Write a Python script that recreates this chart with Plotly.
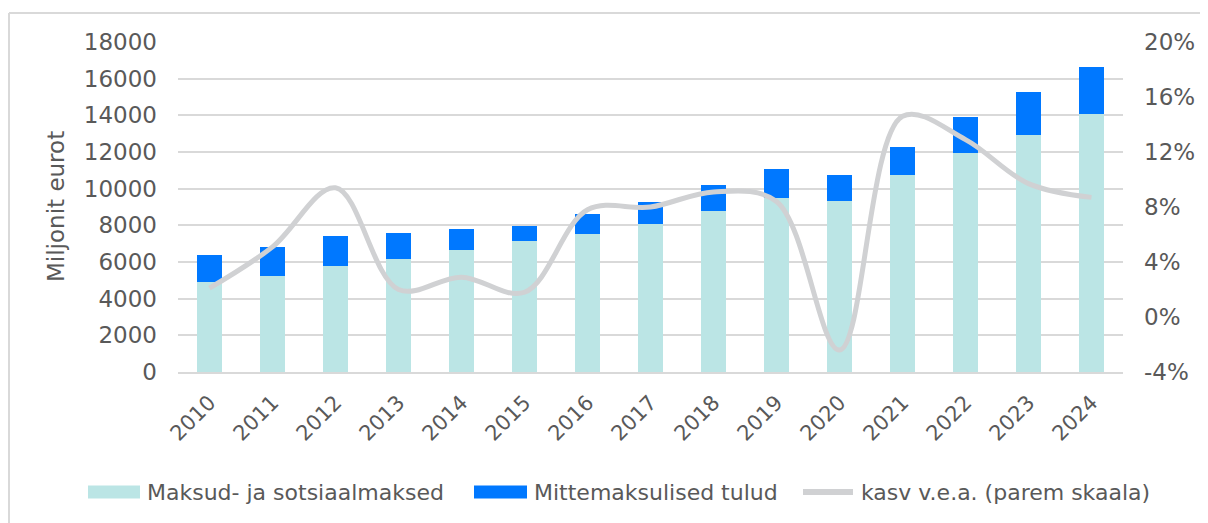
import plotly.graph_objects as go

years = [str(y) for y in range(2010, 2025)]
maksud = [4900, 5250, 5800, 6150, 6650, 7150, 7550, 8050, 8800, 9500, 9350, 10750, 11950, 12950, 14050]
total = [6400, 6800, 7400, 7600, 7800, 7950, 8600, 9250, 10200, 11050, 10750, 12300, 13900, 15300, 16650]
mitte = [t - m for t, m in zip(total, maksud)]
kasv = [2.1, 5.1, 9.4, 2.0, 2.9, 1.8, 7.8, 8.0, 9.1, 8.4, -2.4, 14.6, 12.9, 9.7, 8.7]
names = ["Maksud- ja sotsiaalmaksed", "Mittemaksulised tulud", "kasv v.e.a. (parem skaala)"]
y_title = "Miljonit eurot"

left_ticks = list(range(0, 18001, 2000))
right_ticks = list(range(-4, 21, 4))

FONT = "DejaVu Sans"
TXT = "#595959"
C_TEAL, C_BLUE, C_LINE, C_GRID = "#bbe5e5", "#0078ff", "#d0d1d3", "#d9d9d9"

# page offset (body margin) of the rendered figure
OFF = 8
W, H = 1208, 523
# target plot area in screenshot pixels
SX0, SX1, SY0, SY1 = 178, 1123, 42, 372
L, T = SX0 - OFF, SY0 - OFF
R = W - (SX1 - OFF)
B = H - (SY1 - OFF)
PW, PH = W - L - R, H - T - B


def px(x):
    return (x - SX0) / PW


def py(y):
    return (SY1 - y) / PH


fig = go.Figure()
fig.add_trace(go.Bar(x=years, y=maksud, name=names[0],
                     marker=dict(color=C_TEAL, line=dict(width=0))))
fig.add_trace(go.Bar(x=years, y=mitte, name=names[1],
                     marker=dict(color=C_BLUE, line=dict(width=0))))
fig.add_trace(go.Scatter(x=years, y=kasv, name=names[2], yaxis="y2",
                         mode="lines", line=dict(color=C_LINE, width=5, shape="spline", smoothing=1.0)))

fig.update_layout(
    width=W, height=H,
    margin=dict(l=L, r=R, t=T, b=B, autoexpand=False),
    paper_bgcolor="white", plot_bgcolor="white",
    barmode="stack", bargap=0.6,
    font=dict(family=FONT, color=TXT, size=21),
    showlegend=False,
    xaxis=dict(tickangle=-45, tickfont=dict(size=21, color=TXT), showgrid=False,
               showline=True, linecolor=C_GRID, linewidth=2, ticks="", ticklabelstandoff=8,
               automargin=False),
    yaxis=dict(range=[0, 18000], tickvals=left_ticks, ticktext=[str(v) for v in left_ticks],
               showgrid=True, gridcolor=C_GRID, gridwidth=2, zeroline=False,
               tickfont=dict(size=23, color=TXT), ticklabelstandoff=20, automargin=False),
    yaxis2=dict(range=[-4, 20], tickvals=right_ticks, ticktext=[f"{v}%" for v in right_ticks],
                overlaying="y", side="right", showgrid=False, zeroline=False,
                tickfont=dict(size=23, color=TXT), ticklabelstandoff=20, automargin=False),
)

# y-axis title
fig.add_annotation(text=y_title, textangle=-90, xref="paper", yref="paper",
                   x=px(56), y=0.5, xanchor="center", yanchor="middle", showarrow=False,
                   font=dict(size=23, color=TXT))

# custom legend
ly = 492
sw = [(88, 140, 145), (474, 527, 532), (800, 856, 859)]
for i, (x0, x1, tx) in enumerate(sw):
    if i < 2:
        fig.add_shape(type="rect", xref="paper", yref="paper",
                      x0=px(x0), x1=px(x1), y0=py(ly + 6.5), y1=py(ly - 6.5),
                      fillcolor=[C_TEAL, C_BLUE][i], line=dict(width=0))
    else:
        fig.add_shape(type="line", xref="paper", yref="paper",
                      x0=px(x0 + 3), x1=px(x1 - 3), y0=py(ly), y1=py(ly),
                      line=dict(color=C_LINE, width=6))
    fig.add_annotation(text=names[i], xref="paper", yref="paper", x=px(tx), y=py(ly),
                       xanchor="left", yanchor="middle", showarrow=False,
                       font=dict(size=22, color=TXT))

# chart border
fig.add_shape(type="line", xref="paper", yref="paper",
              x0=px(9), x1=px(1230), y0=py(13), y1=py(13), line=dict(color=C_GRID, width=2))
fig.add_shape(type="line", xref="paper", yref="paper",
              x0=px(9), x1=px(9), y0=py(13), y1=py(540), line=dict(color=C_GRID, width=2))

fig.write_html("out.html")
